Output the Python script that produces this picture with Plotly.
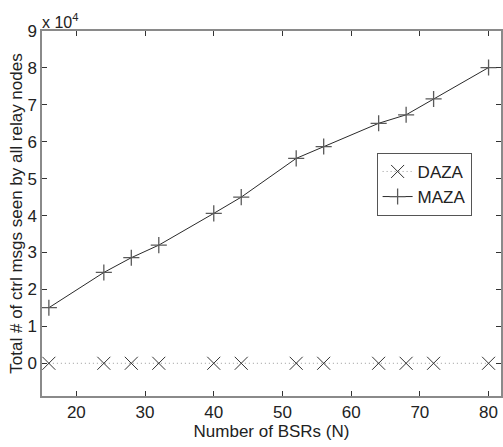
import plotly.graph_objects as go

n_bsrs = [16, 24, 28, 32, 40, 44, 52, 56, 64, 68, 72, 80]
daza = [0, 0, 0, 0, 0, 0, 0, 0, 0, 0, 0, 0]
maza = [15050, 24600, 28600, 32000, 40600, 45000, 55500, 58700, 65000, 67300, 71600, 80100]
x_ticks = [20, 30, 40, 50, 60, 70, 80]
y_ticks = [0, 10000, 20000, 30000, 40000, 50000, 60000, 70000, 80000, 90000]
y_tick_text = ["0", "1", "2", "3", "4", "5", "6", "7", "8", "9"]

FONT = "Liberation Sans, Arial, Helvetica, sans-serif"
AX = "#8a8a8a"
TXT = "#222222"

fig = go.Figure()
fig.add_trace(go.Scatter(
    x=n_bsrs, y=daza, name="DAZA", mode="lines+markers",
    line=dict(color="#9a9a9a", width=1, dash="1px,3px"),
    marker=dict(symbol="x-thin-open", size=13, color="#333333",
                line=dict(width=1, color="#333333")),
))
fig.add_trace(go.Scatter(
    x=n_bsrs, y=maza, name="MAZA", mode="lines+markers",
    line=dict(color="#2a2a2a", width=1),
    marker=dict(symbol="cross-thin-open", size=11.5, color="#5a5a5a",
                line=dict(width=1.3, color="#5a5a5a")),
))

fig.update_layout(
    width=503, height=447,
    margin=dict(l=42, r=0, t=31, b=51),
    paper_bgcolor="white", plot_bgcolor="white",
    font=dict(family=FONT, size=17, color=TXT),
    showlegend=True,
    legend=dict(x=0.729, y=0.666, xanchor="left", yanchor="top",
                bgcolor="white", bordercolor="#555555", borderwidth=1,
                font=dict(size=17, color=TXT),
                tracegroupgap=0, itemwidth=30),
    xaxis=dict(range=[15, 81.81], tickvals=x_ticks, ticks="inside", ticklen=5,
               tickcolor="#333333", showline=True, linecolor=AX, linewidth=1.5,
               mirror="ticks", showgrid=False, zeroline=False,
               tickfont=dict(size=17),
               title=dict(text="Number of BSRs (N)", font=dict(size=17), standoff=4)),
    yaxis=dict(range=[-8860, 90000], tickvals=y_ticks, ticktext=y_tick_text,
               ticks="inside", ticklen=5, tickcolor="#333333",
               showline=True, linecolor=AX, linewidth=1.5, mirror="ticks",
               showgrid=False, zeroline=False, tickfont=dict(size=17),
               title=dict(text="Total # of ctrl msgs seen by all relay nodes",
                          font=dict(size=17), standoff=0)),
)
fig.add_annotation(xref="paper", yref="paper", x=0.0, y=1.0, xanchor="left",
                   yanchor="bottom", showarrow=False, xshift=-2, yshift=-2,
                   text="x 10<sup>4</sup>", font=dict(size=16, color=TXT))

fig.write_html("out.html", config={"displayModeBar": False},
               post_script="document.body.style.margin='0';document.body.style.overflow='hidden';")
